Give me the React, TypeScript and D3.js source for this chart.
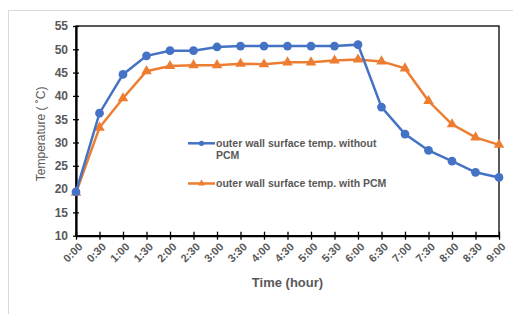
import React, { useEffect, useRef } from "react";
import * as d3 from "d3";

const times = [
  "0:00", "0:30", "1:00", "1:30", "2:00", "2:30", "3:00", "3:30", "4:00", "4:30",
  "5:00", "5:30", "6:00", "6:30", "7:00", "7:30", "8:00", "8:30", "9:00",
];
const withoutPCM = [
  19.4, 36.3, 44.6, 48.6, 49.7, 49.7, 50.5, 50.7, 50.7, 50.7,
  50.7, 50.7, 51.0, 37.6, 31.8, 28.3, 26.0, 23.6, 22.5,
];
const withPCM = [
  19.2, 33.2, 39.5, 45.3, 46.4, 46.6, 46.6, 46.9, 46.8, 47.2,
  47.2, 47.6, 47.8, 47.4, 45.9, 38.9, 33.9, 31.1, 29.5,
];
const yTicks = [10, 15, 20, 25, 30, 35, 40, 45, 50, 55];
const seriesNames = [
  ["outer wall surface temp. without", "PCM"],
  ["outer wall surface temp. with PCM"],
];

const W = 513;
const H = 314;
const blue = "#4472C4";
const orange = "#ED7D31";
const textColor = "#595959";
const font = "Liberation Sans, Arial, sans-serif";

export default function App() {
  const ref = useRef<SVGSVGElement>(null);

  useEffect(() => {
    const svg = d3.select(ref.current);
    svg.selectAll("*").remove();

    const left = 76, right = 499, top = 26, bottom = 235.7;

    const x = d3.scalePoint().domain(times).range([left, right]);
    const y = d3.scaleLinear().domain([10, 55]).range([bottom, top]);

    svg.append("rect").attr("width", W).attr("height", H).attr("fill", "white");

    // outer light frame
    svg
      .append("path")
      .attr("d", `M${W},10.5 H8.5 V${H}`)
      .attr("fill", "none")
      .attr("stroke", "#d9d9d9")
      .attr("stroke-width", 1);

    // plot frame
    svg
      .append("rect")
      .attr("x", left)
      .attr("y", top)
      .attr("width", right - left)
      .attr("height", bottom - top)
      .attr("fill", "none")
      .attr("stroke", "#000")
      .attr("stroke-width", 1.3);

    // y axis
    const yAxis = svg
      .append("g")
      .attr("transform", `translate(${left},0)`)
      .call(d3.axisLeft(y).tickValues(yTicks).tickSize(3).tickSizeOuter(0))
      .call((g) => g.select(".domain").attr("stroke", "#000").attr("stroke-width", 2.2));
    yAxis
      .selectAll(".tick line")
      .attr("x1", 3)
      .attr("x2", -3)
      .attr("stroke", "#000")
      .attr("stroke-width", 1.3);
    yAxis
      .selectAll(".tick text")
      .attr("x", -8)
      .attr("fill", textColor)
      .attr("font-family", font)
      .attr("font-size", 12)
      .attr("font-weight", "bold");

    // x axis
    const xAxis = svg
      .append("g")
      .attr("transform", `translate(0,${bottom})`)
      .call(d3.axisBottom(x).tickSize(3).tickSizeOuter(0))
      .call((g) => g.select(".domain").attr("stroke", "#000").attr("stroke-width", 2.2));
    xAxis
      .selectAll(".tick line")
      .attr("y1", -4)
      .attr("y2", 4)
      .attr("stroke", "#000")
      .attr("stroke-width", 1.3);
    xAxis
      .selectAll(".tick text")
      .attr("fill", textColor)
      .attr("font-family", font)
      .attr("font-size", 11)
      .attr("font-weight", "bold")
      .attr("text-anchor", "end")
      .attr("transform", "translate(4,9) rotate(-45)")
      .attr("y", 0)
      .attr("dy", "0.35em");

    const drawSeries = (vals: number[], color: string, shape: "circle" | "triangle") => {
      const line = d3
        .line<number>()
        .x((_, i) => x(times[i])!)
        .y((d) => y(d));
      svg
        .append("path")
        .datum(vals)
        .attr("d", line)
        .attr("fill", "none")
        .attr("stroke", color)
        .attr("stroke-width", 2.5);
      const sym = d3
        .symbol()
        .type(shape === "circle" ? d3.symbolCircle : d3.symbolTriangle)
        .size(shape === "circle" ? 60 : 48);
      svg
        .append("g")
        .selectAll("path")
        .data(vals)
        .join("path")
        .attr("d", sym)
        .attr("transform", (d, i) => `translate(${x(times[i])},${y(d)})`)
        .attr("fill", color);
    };
    drawSeries(withPCM, orange, "triangle");
    drawSeries(withoutPCM, blue, "circle");

    // legend
    const legend = [
      { color: blue, shape: d3.symbolCircle, y: 143.3, size: 22 },
      { color: orange, shape: d3.symbolTriangle, y: 183.5, size: 20 },
    ];
    legend.forEach((l, k) => {
      const g = svg.append("g");
      g.append("line")
        .attr("x1", 188)
        .attr("x2", 215)
        .attr("y1", l.y)
        .attr("y2", l.y)
        .attr("stroke", l.color)
        .attr("stroke-width", 2.5);
      g.append("path")
        .attr("d", d3.symbol().type(l.shape).size(l.size)())
        .attr("transform", `translate(201.5,${l.y})`)
        .attr("fill", l.color);
      seriesNames[k].forEach((t, j) => {
        g.append("text")
          .attr("x", 216)
          .attr("y", l.y + j * 12)
          .attr("dy", "0.35em")
          .attr("fill", textColor)
          .attr("font-family", font)
          .attr("font-size", 10.5)
          .attr("font-weight", "bold")
          .text(t);
      });
    });

    // axis titles
    svg
      .append("text")
      .attr("x", (left + right) / 2)
      .attr("y", 282)
      .attr("dy", "0.35em")
      .attr("text-anchor", "middle")
      .attr("fill", textColor)
      .attr("font-family", font)
      .attr("font-size", 13)
      .attr("font-weight", "bold")
      .text("Time (hour)");
    svg
      .append("text")
      .attr("transform", `translate(41,${(top + bottom) / 2 + 3}) rotate(-90)`)
      .attr("dy", "0.35em")
      .attr("text-anchor", "middle")
      .attr("fill", textColor)
      .attr("font-family", font)
      .attr("font-size", 12)
      .text("Temperature ( ˚C)");
  }, []);

  return (
    <svg
      ref={ref}
      width={W}
      height={H}
      style={{ position: "absolute", left: 0, top: 0 }}
    />
  );
}
